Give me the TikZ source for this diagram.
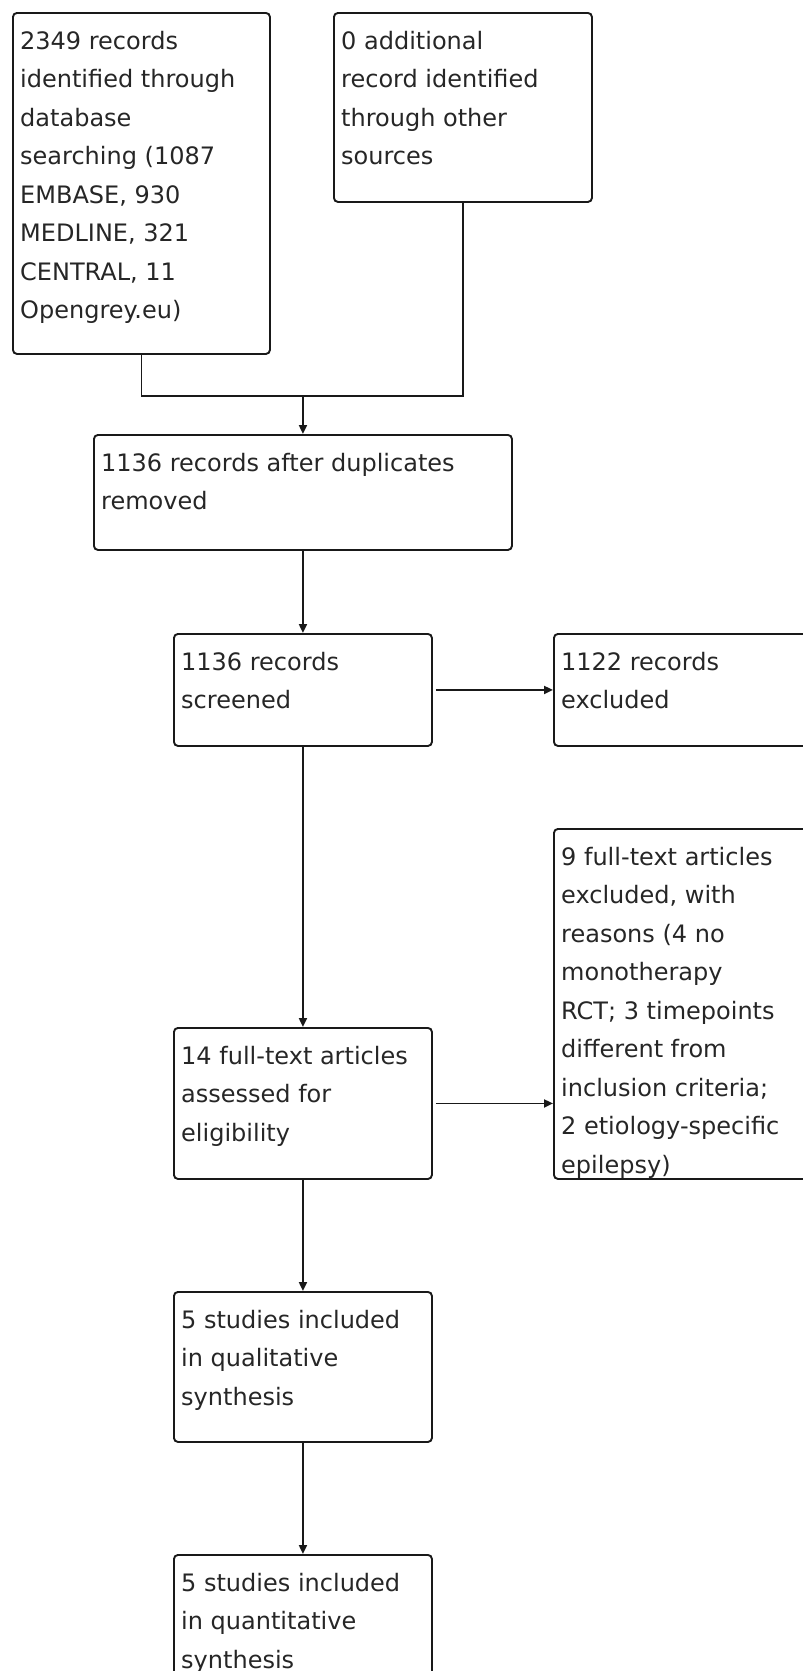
\documentclass[tikz,border=0pt]{standalone}
\usepackage{fontspec}
\setmainfont{DejaVu Sans}
\usetikzlibrary{arrows.meta,positioning,calc}

\begin{document}
\begin{tikzpicture}[x=1pt, y=-1pt,
  box/.style={draw=black!90, line width=1.9pt, rounded corners=4pt, anchor=north west, inner sep=0pt},
  txt/.style={anchor=north west, inner sep=0pt, align=left, text=black!85, font=\fontsize{24}{38.5}\selectfont},
  arr/.style={line width=1.9pt, draw=black!90, -{Triangle[length=9pt,width=8pt]}},
  link/.style={line width=1.9pt, draw=black!90}]

\useasboundingbox (0,0) rectangle (803,1671);
\clip (0,0) rectangle (803,1671);

% Identification
\node[box, minimum width=257pt, minimum height=341pt] (srch) at (12,12) {};
\node[txt] (srch-t) at ([shift={(8,19)}]srch.north west) {2349 records\\identified through\\database\\searching (1087\\EMBASE, 930\\MEDLINE, 321\\CENTRAL, 11\\Opengrey.eu)};

\node[box, minimum width=258pt, minimum height=189pt] (other) at (333,12) {};
\node[txt] (other-t) at ([shift={(8,19)}]other.north west) {0 additional\\record identified\\through other\\sources};

% Screening
\node[box, minimum width=418pt, minimum height=115pt] (dedup) at (93,434) {};
\node[txt] (dedup-t) at ([shift={(8,19)}]dedup.north west) {1136 records after duplicates\\removed};

\node[box, minimum width=258pt, minimum height=112pt] (screen) at (173,633) {};
\node[txt] (screen-t) at ([shift={(8,19)}]screen.north west) {1136 records\\screened};

\node[box, minimum width=280pt, minimum height=112pt] (excl1) at (553,633) {};
\node[txt] (excl1-t) at ([shift={(8,19)}]excl1.north west) {1122 records\\excluded};

% Eligibility
\node[box, minimum width=258pt, minimum height=151pt] (elig) at (173,1027) {};
\node[txt] (elig-t) at ([shift={(8,19)}]elig.north west) {14 full-text articles\\assessed for\\eligibility};

\node[box, minimum width=280pt, minimum height=350pt] (excl2) at (553,828) {};
\node[txt] (excl2-t) at ([shift={(8,19)}]excl2.north west) {9 full-text articles\\excluded, with\\reasons (4 no\\monotherapy\\RCT; 3 timepoints\\different from\\inclusion criteria;\\2 etiology-specific\\epilepsy)};

% Included
\node[box, minimum width=258pt, minimum height=150pt] (qual) at (173,1291) {};
\node[txt] (qual-t) at ([shift={(8,19)}]qual.north west) {5 studies included\\in qualitative\\synthesis};

\node[box, minimum width=258pt, minimum height=150pt] (quant) at (173,1554) {};
\node[txt] (quant-t) at ([shift={(8,19)}]quant.north west) {5 studies included\\in quantitative\\synthesis};

% Connectors
\coordinate (join) at (dedup.north |- 0,396);
\draw[link] (srch.south) |- (join) -| (other.south);
\draw[arr] (join) -- (dedup.north);
\draw[arr] (dedup.south) -- (screen.north);
\draw[arr, shorten <=3pt] (screen.east) -- (screen.east -| excl1.west);
\draw[arr] (screen.south) -- (elig.north);
\draw[arr, shorten <=3pt] (elig.east) -- (elig.east -| excl2.west);
\draw[arr] (elig.south) -- (qual.north);
\draw[arr] (qual.south) -- (quant.north);

\end{tikzpicture}
\end{document}
